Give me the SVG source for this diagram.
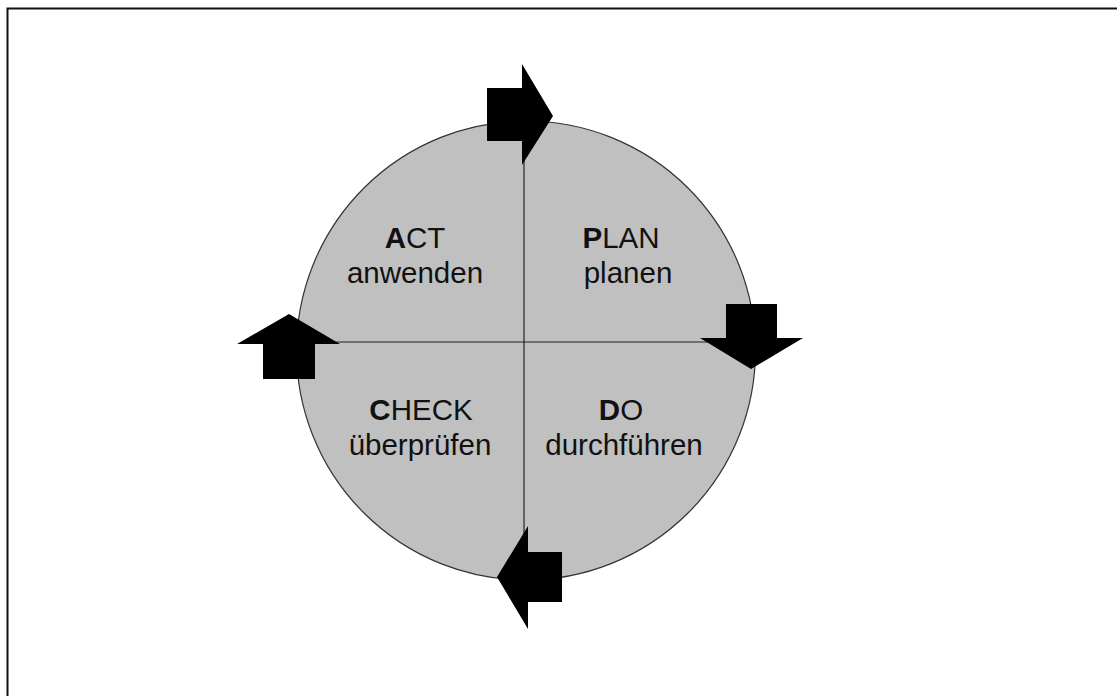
<svg xmlns="http://www.w3.org/2000/svg" width="1117" height="696" viewBox="0 0 1117 696">
<style>
.lbl{font-family:"Liberation Sans",Arial,sans-serif;font-size:29.5px;fill:#111;text-anchor:middle}
.b{font-weight:bold}
.arr{fill:#000}
.ln{stroke:#222;stroke-width:1.2;fill:none}
</style>
<rect x="0" y="0" width="1117" height="696" fill="#fff"/>
<rect x="7.5" y="8.5" width="1120" height="700" fill="none" stroke="#111" stroke-width="2"/>
<g id="circle">
<ellipse cx="526" cy="350.5" rx="229.5" ry="229.5" fill="#c0c0c0" stroke="#333" stroke-width="1.2"/>
</g>
<g id="connectors">
<line class="ln" x1="296" y1="342" x2="756" y2="342"/>
<line class="ln" x1="524" y1="121" x2="524" y2="580"/>
<polygon id="arrow-top" class="arr" points="487,88 522,88 522,64 553,116 522,165 522,141 487,141"/>
<polygon id="arrow-right" class="arr" points="726,304 777,304 777,338 803,338 751,369 700,338 726,338"/>
<polygon id="arrow-bottom" class="arr" points="497,577 528,526 528,552 562,552 562,602 528,602 528,629"/>
<polygon id="arrow-left" class="arr" points="289,314 340,344 315,344 315,379 263,379 263,344 237,344"/>
</g>
<g id="act">
<text class="lbl" x="415" y="248"><tspan class="b">A</tspan>CT</text>
<text class="lbl" x="415" y="283">anwenden</text>
</g>
<g id="plan">
<text class="lbl" x="621" y="248"><tspan class="b">P</tspan>LAN</text>
<text class="lbl" x="628" y="283">planen</text>
</g>
<g id="check">
<text class="lbl" x="421" y="420"><tspan class="b">C</tspan>HECK</text>
<text class="lbl" x="420" y="455">überprüfen</text>
</g>
<g id="do">
<text class="lbl" x="621" y="420"><tspan class="b">D</tspan>O</text>
<text class="lbl" x="624" y="455">durchführen</text>
</g>
</svg>
